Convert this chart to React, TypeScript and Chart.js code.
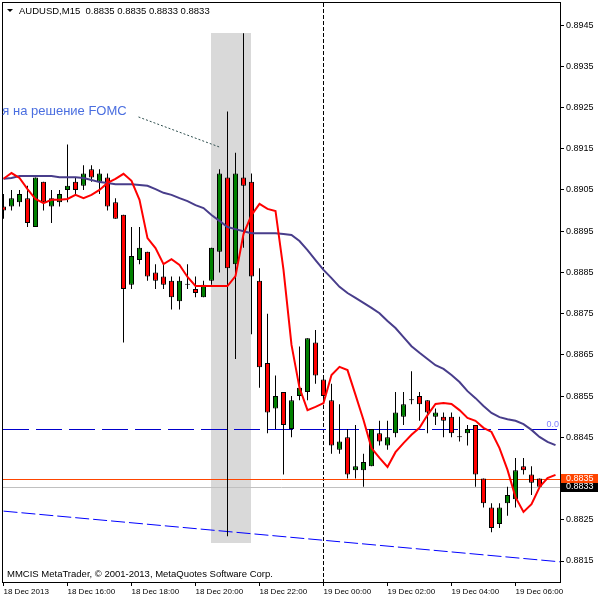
import React, { useEffect, useRef } from "react";
import { Chart, registerables } from "chart.js";

Chart.register(...registerables);

// ---------- data ----------
const symbol = "AUDUSD";
const timeframe = "M15";

// 68 M15 bars, 18 Dec 14:00 .. 19 Dec 06:45
const opens = [
  0.8901, 0.8901, 0.8902, 0.8903, 0.8896, 0.8907, 0.8901, 0.8902, 0.8905, 0.8907,
  0.8906, 0.891, 0.8907, 0.8908, 0.8902, 0.8899, 0.8882, 0.8888, 0.889, 0.8885,
  0.8884, 0.8883, 0.8878, 0.8882, 0.8881, 0.8879, 0.8883, 0.889, 0.8908, 0.8887,
  0.8908, 0.8907, 0.8883, 0.8863, 0.8852, 0.8856, 0.8847, 0.8855, 0.8856, 0.8868,
  0.8859, 0.8854, 0.8842, 0.8845, 0.8837, 0.8837, 0.8838, 0.8846, 0.8843, 0.8846,
  0.885, 0.8854, 0.8855, 0.8854, 0.885, 0.885, 0.885, 0.8845, 0.8846, 0.8848,
  0.8835, 0.8828, 0.8824, 0.8829, 0.883, 0.8838, 0.8836, 0.8835,
];
const highs = [
  0.8904, 0.8905, 0.8905, 0.8906, 0.8908, 0.8907, 0.8905, 0.8905, 0.8916, 0.8908,
  0.8911, 0.8911, 0.891, 0.8909, 0.8903, 0.8899, 0.8896, 0.8896, 0.889, 0.8887,
  0.8887, 0.8884, 0.8884, 0.8887, 0.8884, 0.8883, 0.8891, 0.891, 0.8924, 0.8914,
  0.8943, 0.8909, 0.8886, 0.8875, 0.886, 0.8856, 0.8855, 0.8867, 0.8869, 0.8871,
  0.886, 0.8858, 0.8853, 0.8847, 0.8848, 0.8841, 0.8847, 0.8849, 0.8849, 0.8856,
  0.8856, 0.8861, 0.8856, 0.8854, 0.8852, 0.8851, 0.8851, 0.885, 0.8848, 0.8848,
  0.8835, 0.8829, 0.8829, 0.8833, 0.884, 0.884, 0.8838, 0.8835,
];
const lows = [
  0.8898, 0.89, 0.8901, 0.8896, 0.8896, 0.89, 0.8897, 0.8901, 0.8902, 0.8904,
  0.8905, 0.8907, 0.8904, 0.89, 0.8898, 0.8868, 0.8881, 0.8887, 0.8883, 0.8881,
  0.8881, 0.8876, 0.8876, 0.8881, 0.8879, 0.8879, 0.8882, 0.8885, 0.8821, 0.8864,
  0.8891, 0.887, 0.8857, 0.8846, 0.8847, 0.8836, 0.8845, 0.8854, 0.8854, 0.8858,
  0.8853, 0.8841, 0.8841, 0.8835, 0.8835, 0.8833, 0.8838, 0.8843, 0.8842, 0.8845,
  0.8848, 0.8853, 0.8849, 0.8846, 0.8848, 0.8845, 0.8845, 0.8844, 0.8843, 0.8833,
  0.8828, 0.8822, 0.8823, 0.8826, 0.8828, 0.8836, 0.8831, 0.8833,
];
const closes = [
  0.89, 0.8903, 0.8904, 0.8897, 0.8908, 0.8902, 0.8903, 0.8904, 0.8906, 0.8905,
  0.8909, 0.8908, 0.8909, 0.8901, 0.8898, 0.8881, 0.8889, 0.8891, 0.8884, 0.8883,
  0.8882, 0.8879, 0.8883, 0.8882, 0.888, 0.8882, 0.8891, 0.8909, 0.8886, 0.8909,
  0.8906, 0.8884, 0.8862, 0.8851, 0.8855, 0.8848, 0.8854, 0.8857, 0.8869, 0.886,
  0.8855, 0.8843, 0.8844, 0.8836, 0.8838, 0.8839, 0.8847, 0.8844, 0.8845, 0.8851,
  0.8853, 0.8854, 0.8853, 0.8851, 0.8851, 0.8849, 0.8846, 0.8845, 0.8847, 0.8836,
  0.8829, 0.8823, 0.8828, 0.8831, 0.8837, 0.8837, 0.8834, 0.8833,
];

// moving averages (drawn shifted 2 bars forward -> 70 points)
const fastMA = [
  0.89077, 0.89091, 0.89079, 0.89052, 0.89028, 0.89018, 0.89026, 0.89026, 0.89028, 0.89038,
  0.8903, 0.89038, 0.8905, 0.89067, 0.89077, 0.89089, 0.89072, 0.89026, 0.88933, 0.88909,
  0.8887, 0.88882, 0.88868, 0.88839, 0.88817, 0.88817, 0.88817, 0.88817, 0.88817, 0.88841,
  0.88943, 0.88989, 0.89016, 0.89004, 0.88999, 0.88856, 0.88674, 0.8857, 0.88516, 0.88524,
  0.88533, 0.88601, 0.88621, 0.88613, 0.88553, 0.88492, 0.88424, 0.884, 0.88378, 0.88414,
  0.88436, 0.88456, 0.88473, 0.88504, 0.88531, 0.88533, 0.88531, 0.88516, 0.88497, 0.8849,
  0.88473, 0.88463, 0.88424, 0.88371, 0.88305, 0.88269, 0.88288, 0.88329, 0.88351, 0.88359,
];
const slowMA = [
  0.89077, 0.89079, 0.89084, 0.89084, 0.89084, 0.89084, 0.89084, 0.89081, 0.89081, 0.89081,
  0.89079, 0.89074, 0.89069, 0.89067, 0.89064, 0.89064, 0.89064, 0.89062, 0.8906, 0.89052,
  0.89043, 0.89038, 0.8903, 0.89023, 0.89013, 0.89006, 0.88989, 0.88975, 0.8896, 0.88955,
  0.8895, 0.88945, 0.88945, 0.88945, 0.88945, 0.88943, 0.88941, 0.88926, 0.88904, 0.8888,
  0.88856, 0.88836, 0.88815, 0.888, 0.88788, 0.88776, 0.88764, 0.88751, 0.88732, 0.88715,
  0.88693, 0.88671, 0.88655, 0.8864, 0.88625, 0.88616, 0.88601, 0.88584, 0.88562, 0.88545,
  0.88526, 0.88509, 0.88499, 0.88494, 0.8849, 0.88482, 0.88468, 0.88451, 0.88439, 0.88431,
];

const timeTickIdx = [0, 8, 16, 24, 32, 40, 48, 56, 64];
const timeLabels = [
  "18 Dec 2013", "18 Dec 16:00", "18 Dec 18:00", "18 Dec 20:00", "18 Dec 22:00",
  "19 Dec 00:00", "19 Dec 02:00", "19 Dec 04:00", "19 Dec 06:00",
];
const priceTicks = [
  0.8815, 0.8825, 0.8835, 0.8845, 0.8855, 0.8865, 0.8875, 0.8885, 0.8895, 0.8905,
  0.8915, 0.8925, 0.8935, 0.8945,
];

// objects on the chart
const zoneIdx = [26, 31];
const zonePrice = [0.89431, 0.88194];
const daySeparatorIdx = 40;
const askPrice = 0.8835;
const bidPrice = 0.8833;
const fiboPrice = 0.88469;
const fiboLabel = "0.0";
const trendIdx = [0, 69.6];
const trendPrice = [0.88271, 0.88148];
const noteLineIdx = [16.875, 27];
const notePricePts = [0.89227, 0.89154];
const noteText = "я на решение FOMC";
const noteIdx = 15.4;
const notePrice = 0.89232;
const copyright = "MMCIS MetaTrader, © 2001-2013, MetaQuotes Software Corp.";

// scale ranges
const yMin = 0.880991;
const yMax = 0.895034;
const xMin = -0.0625;
const xMax = 69.5625;

const FONT = "'Liberation Sans', Arial, sans-serif";

const overlayPlugin = {
  id: "mtOverlay",
  beforeDatasetsDraw(chart: any) {
    const { ctx, chartArea: a, scales } = chart;
    const x = scales.x;
    const y = scales.y;
    ctx.save();
    ctx.beginPath();
    ctx.rect(a.left, a.top, a.right - a.left, a.bottom - a.top);
    ctx.clip();

    // shaded zone
    const zx1 = x.getPixelForValue(zoneIdx[0]);
    const zx2 = x.getPixelForValue(zoneIdx[1]);
    const zy1 = y.getPixelForValue(zonePrice[0]);
    const zy2 = y.getPixelForValue(zonePrice[1]);
    ctx.fillStyle = "#D9D9D9";
    ctx.fillRect(Math.floor(zx1), Math.round(zy1), Math.round(zx2 - zx1), Math.round(zy2 - zy1));

    const hline = (p: number, color: string, dash: number[]) => {
      const py = Math.round(y.getPixelForValue(p)) + 0.5;
      ctx.beginPath();
      ctx.setLineDash(dash);
      ctx.strokeStyle = color;
      ctx.lineWidth = 1;
      ctx.moveTo(a.left, py);
      ctx.lineTo(a.right, py);
      ctx.stroke();
    };

    // day separator
    const sx = Math.floor(x.getPixelForValue(daySeparatorIdx)) + 0.5;
    ctx.beginPath();
    ctx.setLineDash([4, 2]);
    ctx.strokeStyle = "#000000";
    ctx.lineWidth = 1;
    ctx.moveTo(sx, a.top);
    ctx.lineTo(sx, a.bottom);
    ctx.stroke();

    hline(fiboPrice, "#0000CD", [26, 7]);
    hline(bidPrice, "#C0C0C0", []);
    hline(askPrice, "#FF4500", []);

    // trend line
    ctx.beginPath();
    ctx.setLineDash([14, 4]);
    ctx.strokeStyle = "#0000FF";
    ctx.moveTo(x.getPixelForValue(trendIdx[0]), y.getPixelForValue(trendPrice[0]));
    ctx.lineTo(x.getPixelForValue(trendIdx[1]), y.getPixelForValue(trendPrice[1]));
    ctx.stroke();

    // note pointer
    ctx.beginPath();
    ctx.setLineDash([2, 2]);
    ctx.strokeStyle = "#2F4F4F";
    ctx.moveTo(x.getPixelForValue(noteLineIdx[0]), y.getPixelForValue(notePricePts[0]));
    ctx.lineTo(x.getPixelForValue(noteLineIdx[1]), y.getPixelForValue(notePricePts[1]));
    ctx.stroke();
    ctx.setLineDash([]);
    ctx.restore();
  },
  afterDraw(chart: any) {
    const { ctx, chartArea: a, scales } = chart;
    const x = scales.x;
    const y = scales.y;
    ctx.save();
    // frame
    ctx.strokeStyle = "#000000";
    ctx.lineWidth = 1;
    ctx.strokeRect(a.left - 0.5, a.top - 0.5, a.right - a.left + 1, a.bottom - a.top + 1);

    // header
    ctx.fillStyle = "#000000";
    ctx.beginPath();
    ctx.moveTo(7, 9);
    ctx.lineTo(13, 9);
    ctx.lineTo(10, 12);
    ctx.closePath();
    ctx.fill();
    const n = opens.length - 1;
    const f = (v: number) => v.toFixed(4);
    ctx.font = `9.5px ${FONT}`;
    ctx.textBaseline = "alphabetic";
    ctx.textAlign = "left";
    ctx.fillText(
      `${symbol},${timeframe}  ${f(opens[n])} ${f(highs[n])} ${f(lows[n])} ${f(closes[n])}`,
      19,
      14
    );

    // copyright
    ctx.font = `9.5px ${FONT}`;
    ctx.fillText(copyright, 7, 577);

    // note text
    ctx.save();
    ctx.beginPath();
    ctx.rect(0, a.top, a.right, a.bottom - a.top);
    ctx.clip();
    ctx.font = `13px ${FONT}`;
    ctx.fillStyle = "#4A6EE0";
    ctx.textAlign = "right";
    ctx.fillText(noteText, x.getPixelForValue(noteIdx), y.getPixelForValue(notePrice));
    ctx.restore();

    // fibo label
    ctx.font = `9px ${FONT}`;
    ctx.fillStyle = "#8080FF";
    ctx.textAlign = "right";
    ctx.fillText(fiboLabel, a.right - 1, Math.round(y.getPixelForValue(fiboPrice)) - 2);

    // price boxes
    ctx.textAlign = "left";
    ctx.textBaseline = "middle";
    ctx.font = `9px ${FONT}`;
    const box = (p: number, bg: string, top: number, h: number) => {
      const py = y.getPixelForValue(p);
      ctx.fillStyle = bg;
      ctx.fillRect(a.right + 1, Math.round(py + top), 37, h);
      ctx.fillStyle = "#FFFFFF";
      ctx.fillText(f(p), a.right + 6, py);
    };
    box(askPrice, "#FF4500", -5, 10);
    box(bidPrice, "#000000", -4, 9);
    ctx.restore();
  },
};

const bodyColors = opens.map((o, i) =>
  closes[i] > o ? "#008000" : closes[i] < o ? "#FF0000" : "#000000"
);

export default function App() {
  const ref = useRef<HTMLCanvasElement | null>(null);
  useEffect(() => {
    if (!ref.current) return;
    const chart = new Chart(ref.current, {
      type: "bar",
      data: {
        datasets: [
          {
            type: "line",
            label: "fast",
            data: fastMA.map((v, i) => ({ x: i, y: v })),
            borderColor: "#FF0000",
            borderWidth: 2,
            pointRadius: 0,
            fill: false,
            order: 0,
          } as any,
          {
            type: "line",
            label: "slow",
            data: slowMA.map((v, i) => ({ x: i, y: v })),
            borderColor: "#483D8B",
            borderWidth: 2,
            pointRadius: 0,
            fill: false,
            order: 1,
          } as any,
          {
            type: "bar",
            label: "body",
            data: opens.map((o, i) => ({ x: i, y: [o, closes[i]] })),
            backgroundColor: bodyColors,
            borderColor: "#000000",
            borderWidth: 1,
            borderSkipped: false,
            barThickness: 5,
            grouped: false,
            minBarLength: 1,
            inflateAmount: 0,
            clip: 0,
            order: 2,
          } as any,
          {
            type: "bar",
            label: "wick",
            data: lows.map((l, i) => ({ x: i, y: [l, highs[i]] })),
            backgroundColor: "#000000",
            borderWidth: 0,
            barThickness: 1,
            grouped: false,
            inflateAmount: 0,
            clip: 0,
            order: 3,
          } as any,
        ],
      },
      options: {
        animation: false,
        responsive: false,
        devicePixelRatio: 1,
        events: [],
        layout: { padding: { left: 3, top: 3, right: 0, bottom: 0 } },
        plugins: { legend: { display: false }, tooltip: { enabled: false } },
        scales: {
          x: {
            type: "linear",
            min: xMin,
            max: xMax,
            offset: false,
            afterBuildTicks: (s: any) => {
              s.ticks = timeTickIdx.map((v) => ({ value: v }));
            },
            afterFit: (s: any) => {
              s.height = 18;
              s.paddingLeft = 0;
              s.paddingRight = 0;
            },
            ticks: {
              callback: (v: any) => timeLabels[timeTickIdx.indexOf(Number(v))] ?? "",
              align: "start",
              maxRotation: 0,
              minRotation: 0,
              autoSkip: false,
              padding: 1,
              color: "#000000",
              font: { family: FONT, size: 8 },
            },
            grid: { drawOnChartArea: false, drawTicks: true, tickLength: 4, color: "#000000", offset: false },
            border: { display: true, color: "#000000" },
          },
          y: {
            type: "linear",
            position: "right",
            min: yMin,
            max: yMax,
            afterBuildTicks: (s: any) => {
              s.ticks = priceTicks.map((v) => ({ value: v }));
            },
            afterFit: (s: any) => {
              s.width = 40;
              s.paddingTop = 0;
              s.paddingBottom = 0;
            },
            ticks: {
              callback: (v: any) => Number(v).toFixed(4),
              autoSkip: false,
              padding: 2,
              color: "#000000",
              font: { family: FONT, size: 9 },
            },
            grid: { drawOnChartArea: false, drawTicks: true, tickLength: 4, color: "#000000" },
            border: { display: true, color: "#000000" },
          },
        },
      } as any,
      plugins: [overlayPlugin],
    });
    return () => chart.destroy();
  }, []);

  return (
    <div style={{ position: "fixed", left: 0, top: 0, width: 600, height: 600, background: "#FFFFFF" }}>
      <canvas ref={ref} width={600} height={600} style={{ display: "block", width: 600, height: 600 }} />
    </div>
  );
}
